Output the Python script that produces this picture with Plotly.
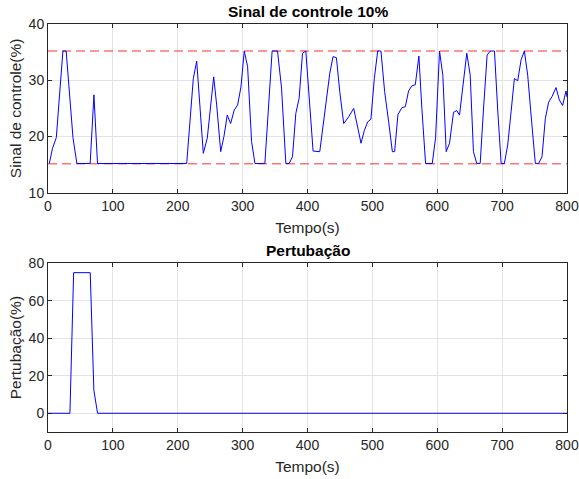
import plotly.graph_objects as go

# Control signal
t_ctrl = [2, 7, 12.8, 23, 28, 38.5, 44.5, 65, 70.8, 76.3, 213.8, 224, 229.2, 239.4, 245.5,
          255.4, 260, 266.2, 271.2, 276.3, 281.5, 287.1, 292.3, 297.4, 302.5, 307.7, 313.8,
          319, 334.3, 342, 345.5, 353.8, 360, 366.6, 371.7, 376.9, 382, 387.1, 392.3, 397.4,
          403.5, 408.6, 418.9, 426.6, 434.3, 439.4, 444.6, 449.7, 455.8, 463.5, 471.2, 482.5,
          487.7, 492.8, 497.8, 503, 508.2, 513.2, 518.9, 525.1, 530.8, 534.3, 539.4, 545.5,
          550.8, 555.8, 560.9, 566.2, 571.7, 576.3, 582, 592.3, 597.4, 603.5, 608.6, 613.8,
          618.9, 625.1, 630.2, 634.3, 640.5, 645.5, 650.8, 655.8, 660.9, 666.2, 671.2, 676.9,
          682, 688.2, 693.2, 698.5, 703.5, 708.6, 713.8, 718.9, 724, 729.2, 734.3, 739.4,
          746.2, 751.2, 756.3, 761.5, 766.6, 771.7, 776.9, 783.1, 788.2, 793.2, 798.5, 800]
v_ctrl = [15.2, 17.9, 19.8, 35.2, 35.2, 19.8, 15.2, 15.2, 27.4, 15.2, 15.2, 30.3, 33.4, 17.0, 19.7,
          30.6, 25.6, 17.3, 20.0, 23.8, 22.3, 24.7, 25.6, 28.8, 35.2, 32.4, 19.1,
          15.2, 15.2, 28.6, 35.2, 35.2, 28.6, 15.2, 15.2, 16.4, 24.1, 26.8, 34.8, 35.2,
          24.4, 17.4, 17.3, 24.4, 31.2, 34.2, 34.0, 28.0, 22.3, 23.5, 25.0, 18.8,
          21.1, 22.6, 23.1, 30.3, 35.2, 35.2, 28.0, 22.6, 17.3, 17.3, 23.9, 25.1,
          25.3, 28.1, 29.0, 29.2, 34.3, 25.0, 15.2, 15.2, 19.7, 35.2, 30.9, 17.3,
          18.8, 24.3, 24.6, 23.8, 30.3, 34.8, 30.9, 17.3, 15.2, 15.2, 24.7, 34.5,
          35.2, 35.2, 24.7, 15.2, 15.2, 18.5, 24.4, 30.3, 29.9, 33.6, 35.2, 30.9,
          21.7, 15.2, 15.2, 16.4, 23.2, 26.1, 27.1, 28.7, 26.5, 25.5, 28.1, 27.0]

upper_limit = 35.2
lower_limit = 15.15

# Disturbance
t_dist = [0, 33.8, 39.5, 65.1, 70.7, 76.4, 800]
v_dist = [0, 0, 75, 75, 12.3, 0, 0]

x_ticks = [0, 100, 200, 300, 400, 500, 600, 700, 800]

fig = go.Figure()
for lim in (upper_limit, lower_limit):
    fig.add_trace(go.Scatter(x=[0, 800], y=[lim, lim], mode="lines",
                             line=dict(color="rgba(255,40,40,0.65)", width=1.3, dash="9px,5px"),
                             xaxis="x", yaxis="y", showlegend=False))
fig.add_trace(go.Scatter(x=t_ctrl, y=v_ctrl, mode="lines",
                         line=dict(color="#0000FF", width=1), xaxis="x", yaxis="y",
                         showlegend=False))
fig.add_trace(go.Scatter(x=t_dist, y=v_dist, mode="lines",
                         line=dict(color="#0000FF", width=1), xaxis="x2", yaxis="y2",
                         showlegend=False))

font_family = "Liberation Sans, Arial, Helvetica, sans-serif"
axis_common = dict(showline=True, linecolor="#262626", linewidth=1, mirror="ticks",
                   ticks="inside", ticklen=4, tickcolor="#262626", automargin=False,
                   ticklabeloverflow="allow",
                   showgrid=True, gridcolor="#E3E3E3", gridwidth=1, zeroline=False,
                   tickfont=dict(size=14, color="#262626", family=font_family))
title_font = dict(size=15.5, color="#262626", family=font_family)

fig.update_layout(
    width=579, height=479,
    margin=dict(l=48, r=12, t=24, b=47),
    paper_bgcolor="white", plot_bgcolor="white",
    font=dict(family=font_family, color="#262626"),
    xaxis=dict(domain=[0, 1], range=[0, 800], tickvals=x_ticks, anchor="y",
               title=dict(text="Tempo(s)", font=title_font, standoff=9), **axis_common),
    yaxis=dict(domain=[0.5865, 1], range=[10, 40], tickvals=[10, 20, 30, 40], anchor="x",
               title=dict(text="Sinal de controle(%)", font=title_font, standoff=3),
               **axis_common),
    xaxis2=dict(domain=[0, 1], range=[0, 800], tickvals=x_ticks, anchor="y2",
                title=dict(text="Tempo(s)", font=title_font, standoff=9), **axis_common),
    yaxis2=dict(domain=[0, 0.4135], range=[-10, 80], tickvals=[0, 20, 40, 60, 80], anchor="x2",
                title=dict(text="Pertubação(%)", font=title_font, standoff=3),
                **axis_common),
    annotations=[
        dict(text="<b>Sinal de controle 10%</b>", x=0.5, xref="paper", y=1.0, yref="paper",
             yanchor="bottom", yshift=2, showarrow=False,
             font=dict(size=15.5, color="black", family=font_family)),
        dict(text="<b>Pertubação</b>", x=0.5, xref="paper", y=0.4135, yref="paper",
             yanchor="bottom", yshift=2, showarrow=False,
             font=dict(size=15.5, color="black", family=font_family)),
    ],
)

fig.write_html("out.html", config={"displayModeBar": False},
               post_script="document.body.style.margin='0';")
